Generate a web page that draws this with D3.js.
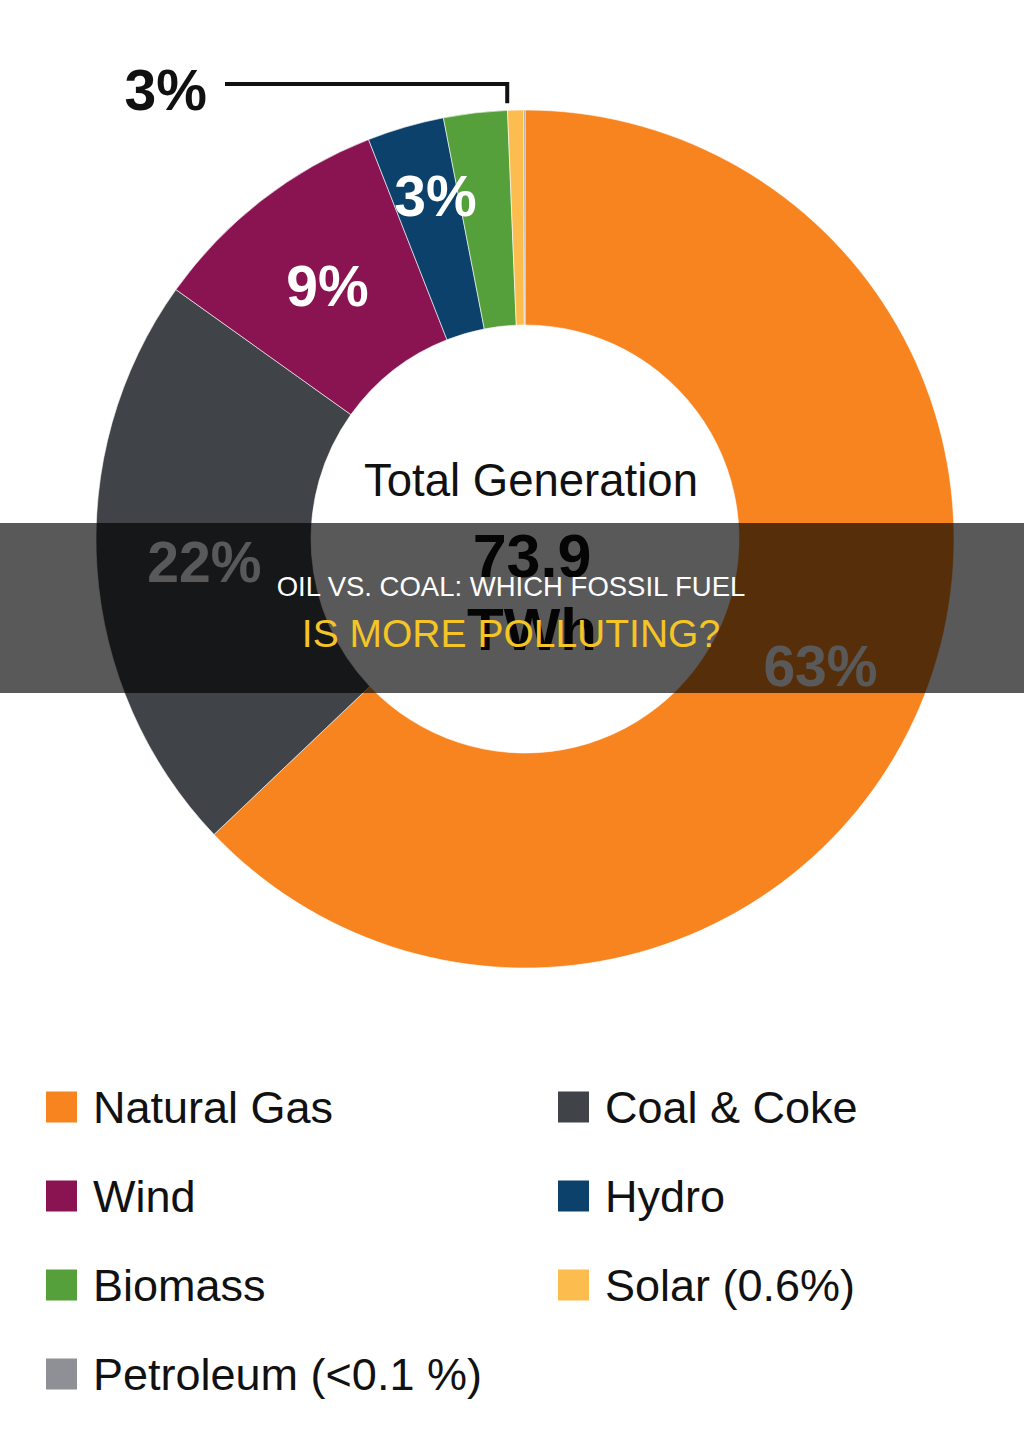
<!DOCTYPE html>
<html>
<head>
<meta charset="utf-8">
<script src="https://cdn.jsdelivr.net/npm/d3@7"></script>
<style>
  html, body { margin: 0; padding: 0; background: #fff; }
  svg { display: block; font-family: "Liberation Sans", Arial, sans-serif; }
</style>
</head>
<body>
<svg id="chart" width="1024" height="1435"></svg>
<script>
// Data
const categories = ['Natural Gas', 'Coal & Coke', 'Wind', 'Hydro', 'Biomass', 'Solar', 'Petroleum'];
const shares = [63, 22, 9.2, 2.9, 2.4, 0.6, 0.05];
const sliceLabels = ['63%', '22%', '9%', '3%', '3%', '', ''];
const legendLabels = ['Natural Gas', 'Coal & Coke', 'Wind', 'Hydro', 'Biomass', 'Solar (0.6%)', 'Petroleum (<0.1 %)'];
const colors = ['#f7841f', '#404449', '#8a1451', '#0b416a', '#55a03b', '#fdbd4e', '#8e9095'];

const centerTitle = 'Total Generation';
const centerValue = '73.9';
const centerUnit = 'TWh';
const bannerLines = ['OIL VS. COAL: WHICH FOSSIL FUEL', 'IS MORE POLLUTING?'];

const svg = d3.select('#chart');
const cx = 525, cy = 539;
const outerR = 429, innerR = 214;

const color = d3.scaleOrdinal().domain(categories).range(colors);

const pie = d3.pie().sort(null).value(d => d.v);
const arcs = pie(categories.map((c, i) => ({ c, v: shares[i], label: sliceLabels[i] })));

const arc = d3.arc().innerRadius(innerR).outerRadius(outerR);

const g = svg.append('g').attr('transform', `translate(${cx},${cy})`);

g.selectAll('path.slice')
  .data(arcs)
  .enter()
  .append('path')
  .attr('class', 'slice')
  .attr('d', arc)
  .attr('fill', d => color(d.data.c))
  .attr('stroke', '#fff')
  .attr('stroke-width', 0.6);

// inner labels (white, bold); hydro label sits further out, nudged clockwise
function labelPos(d) {
  if (d.data.c === 'Hydro') {
    const ang = (d.startAngle + d.endAngle) / 2 + 0.15 * (d.endAngle - d.startAngle);
    return [355 * Math.sin(ang), -355 * Math.cos(ang)];
  }
  return arc.centroid(d);
}
g.selectAll('text.pct')
  .data(arcs.filter(d => d.data.label && d.data.c !== 'Biomass'))
  .enter()
  .append('text')
  .attr('class', 'pct')
  .attr('transform', d => {
    const p = labelPos(d);
    return `translate(${p[0]},${p[1]})`;
  })
  .attr('dy', '0.36em')
  .attr('text-anchor', 'middle')
  .attr('font-weight', 'bold')
  .attr('font-size', 57)
  .attr('fill', '#fff')
  .text(d => d.data.label);

// leader label for biomass
const bio = arcs.find(d => d.data.c === 'Biomass');
const a = bio.endAngle;
const lx = (outerR + 7) * Math.sin(a);
const ly = -(outerR + 7) * Math.cos(a);
const lineY = -455;
g.append('path')
  .attr('d', `M${lx},${ly} L${lx},${lineY} L${225 - cx},${lineY}`)
  .attr('fill', 'none')
  .attr('stroke', '#111')
  .attr('stroke-width', 4);
g.append('text')
  .attr('x', 207 - cx)
  .attr('y', 110 - cy)
  .attr('text-anchor', 'end')
  .attr('font-weight', 'bold')
  .attr('font-size', 57)
  .attr('fill', '#111')
  .text(bio.data.label);

// center texts
g.append('text')
  .attr('x', 6).attr('y', 496 - cy)
  .attr('text-anchor', 'middle')
  .attr('font-size', 45.5)
  .attr('fill', '#111')
  .text(centerTitle);
g.append('text')
  .attr('x', 7).attr('y', 577 - cy)
  .attr('text-anchor', 'middle')
  .attr('font-size', 61)
  .attr('font-weight', 'bold')
  .attr('fill', '#111')
  .text(centerValue);
g.append('text')
  .attr('x', 7).attr('y', 650 - cy)
  .attr('text-anchor', 'middle')
  .attr('font-size', 60)
  .attr('font-weight', 'bold')
  .attr('fill', '#111')
  .text(centerUnit);

// legend
const legend = svg.append('g').attr('class', 'legend');
const colX = [46, 558];
const rowY = d3.scalePoint().domain(d3.range(4)).range([1107, 1374]);
const items = legend.selectAll('g.item')
  .data(legendLabels.map((l, i) => ({ l, c: categories[i], i })))
  .enter()
  .append('g')
  .attr('class', 'item')
  .attr('transform', d => `translate(${colX[d.i % 2]},${rowY(Math.floor(d.i / 2))})`);
items.append('rect')
  .attr('x', 0).attr('y', -15.5)
  .attr('width', 31).attr('height', 31)
  .attr('fill', d => color(d.c));
items.append('text')
  .attr('x', 47).attr('y', 16)
  .attr('font-size', 45)
  .attr('fill', '#111')
  .text(d => d.l);

// title banner overlay
svg.append('rect')
  .attr('x', 0).attr('y', 523)
  .attr('width', 1024).attr('height', 170)
  .attr('fill', '#000')
  .attr('fill-opacity', 0.65);
svg.append('text')
  .attr('x', 511).attr('y', 596)
  .attr('text-anchor', 'middle')
  .attr('font-size', 27.5)
  .attr('fill', '#fff')
  .text(bannerLines[0]);
svg.append('text')
  .attr('x', 511).attr('y', 647)
  .attr('text-anchor', 'middle')
  .attr('font-size', 39)
  .attr('fill', '#f5c425')
  .text(bannerLines[1]);
</script>
</body>
</html>
